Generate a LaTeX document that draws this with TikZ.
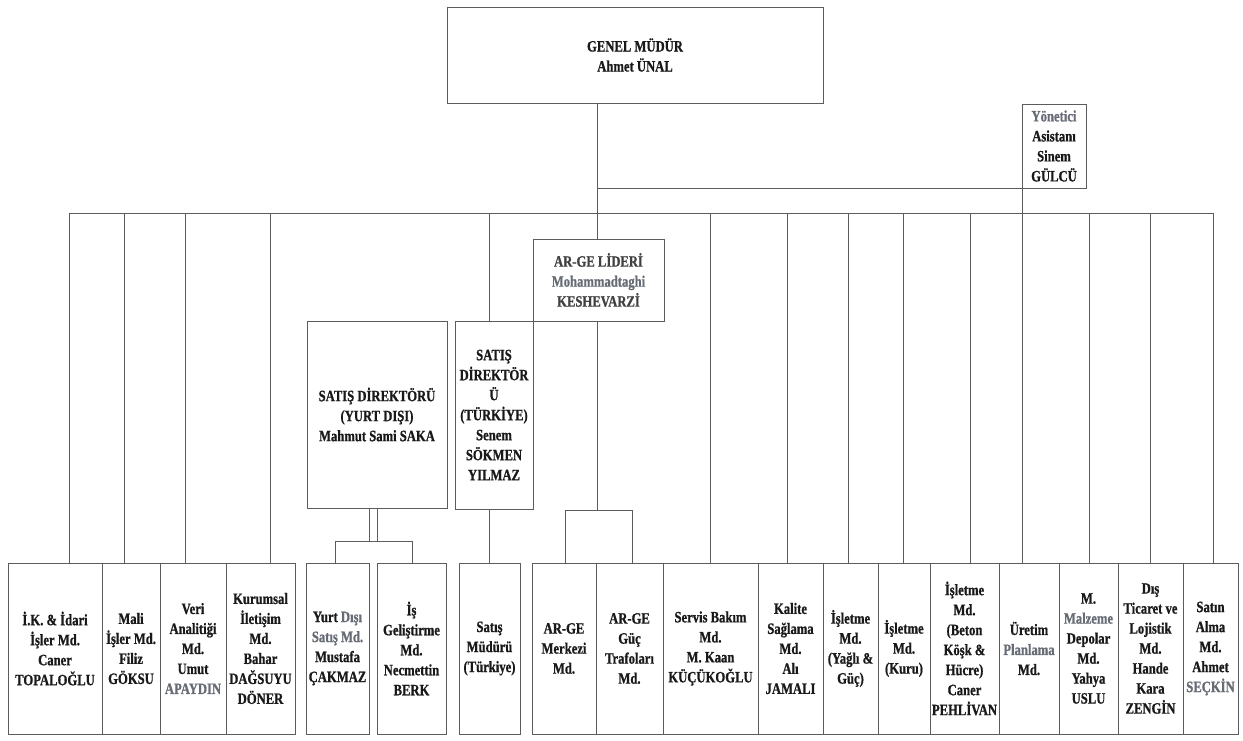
\documentclass[tikz,border=0pt]{standalone}
\usepackage{fontspec}
\newfontfamily\cf{Liberation Serif}[FakeStretch=0.8, FakeBold=0.8]
\definecolor{linec}{rgb}{0.36,0.36,0.37}
\definecolor{graytext}{rgb}{0.40,0.42,0.46}
\newcommand\orgfont{\cf\bfseries\fontsize{15.8}{20}\selectfont}
\newcommand\gw[1]{\textcolor{graytext}{#1}}
\tikzset{
  box/.style={draw=linec, line width=1pt, inner sep=0pt, outer sep=0pt, align=center, font=\orgfont, text=black!90},
  conn/.style={draw=linec, line width=1pt},
}
\begin{document}
\begin{tikzpicture}[x=1pt,y=-1pt]
\useasboundingbox[fill=white] (0,0) rectangle (1243,740);
% top level
\node[box, minimum width=376, minimum height=96] (gm) at (635,55) {GENEL MÜDÜR\\Ahmet ÜNAL};
\node[box, minimum width=64, minimum height=84] (ya) at (1054,146) {\gw{Yönetici}\\Asistanı\\Sinem\\GÜLCÜ};
\node[box, minimum width=131, minimum height=82, text=black!75] (arge) at (598.5,280) {AR-GE LİDERİ\\\gw{Mohammadtaghi}\\KESHEVARZİ};
\node[box, minimum width=140, minimum height=187] (sdy) at (377,414.5) {SATIŞ DİREKTÖRÜ\\(YURT DIŞI)\\Mahmut Sami SAKA};
\node[box, minimum width=78, minimum height=188] (sdt) at (494,415) {SATIŞ\\DİREKTÖR\\Ü\\(TÜRKİYE)\\Senem\\SÖKMEN\\YILMAZ};
% bottom boxes
\node[box, minimum width=94, minimum height=171] (b1) at (55,648.5) {İ.K. \& İdari\\İşler Md.\\Caner\\TOPALOĞLU};
\node[box, minimum width=58, minimum height=171] (b2) at (131,648.5) {Mali\\İşler Md.\\Filiz\\GÖKSU};
\node[box, minimum width=66, minimum height=171] (b3) at (193,648.5) {Veri\\Analitiği\\Md.\\Umut\\\gw{APAYDIN}};
\node[box, minimum width=69, minimum height=171] (b4) at (260.5,648.5) {Kurumsal\\İletişim\\Md.\\Bahar\\DAĞSUYU\\DÖNER};
\node[box, minimum width=63, minimum height=171] (b5) at (337.5,648.5) {Yurt \gw{Dışı}\\\gw{Satış Md.}\\Mustafa\\ÇAKMAZ};
\node[box, minimum width=69, minimum height=171] (b6) at (411.5,648.5) {İş\\Geliştirme\\Md.\\Necmettin\\BERK};
\node[box, minimum width=61, minimum height=171] (b7) at (489.5,648.5) {Satış\\Müdürü\\(Türkiye)};
\node[box, minimum width=64, minimum height=171] (b8) at (564,648.5) {AR-GE\\Merkezi\\Md.};
\node[box, minimum width=67, minimum height=171] (b9) at (629.5,648.5) {AR-GE\\Güç\\Trafoları\\Md.};
\node[box, minimum width=95, minimum height=171] (b10) at (710.5,648.5) {Servis Bakım\\Md.\\M. Kaan\\KÜÇÜKOĞLU};
\node[box, minimum width=65, minimum height=171] (b11) at (790.5,648.5) {Kalite\\Sağlama\\Md.\\Alı\\JAMALI};
\node[box, minimum width=55, minimum height=171] (b12) at (850.5,648.5) {İşletme\\Md.\\(Yağlı \&\\Güç)};
\node[box, minimum width=52, minimum height=171] (b13) at (904,648.5) {İşletme\\Md.\\(Kuru)};
\node[box, minimum width=69, minimum height=171] (b14) at (964.5,648.5) {İşletme\\Md.\\(Beton\\Köşk \&\\Hücre)\\Caner\\PEHLİVAN};
\node[box, minimum width=60, minimum height=171] (b15) at (1029,648.5) {Üretim\\\gw{Planlama}\\Md.};
\node[box, minimum width=59, minimum height=171] (b16) at (1088.5,648.5) {M.\\\gw{Malzeme}\\Depolar\\Md.\\Yahya\\USLU};
\node[box, minimum width=65, minimum height=171] (b17) at (1150.5,648.5) {Dış\\Ticaret ve\\Lojistik\\Md.\\Hande\\Kara\\ZENGİN};
\node[box, minimum width=55, minimum height=171] (b18) at (1210.5,648.5) {Satın\\Alma\\Md.\\Ahmet\\\gw{SEÇKİN}};
% coordinates
\coordinate (m) at (597,213);
\coordinate (barL) at (69,213);
\coordinate (barR) at (1213,213);
\coordinate (d2) at (124,213);
\coordinate (d3) at (185,213);
\coordinate (d4) at (270,213);
\coordinate (d7) at (489,213);
\coordinate (d10) at (710,213);
\coordinate (d11) at (787,213);
\coordinate (d12) at (848,213);
\coordinate (d13) at (903,213);
\coordinate (d14) at (970,213);
\coordinate (d16) at (1089,213);
\coordinate (d17) at (1150,213);
\coordinate (ab) at (597,510);
\coordinate (abL) at (565,510);
\coordinate (abR) at (632,510);
\coordinate (yb1) at (369,541);
\coordinate (yb2) at (377,541);
\coordinate (ybL) at (335,541);
\coordinate (ybR) at (412,541);
% connectors
\draw[conn] (m |- gm.south) -- (m |- arge.north);
\draw[conn] (m |- ya.south) -- (ya.south west);
\draw[conn] (ya.south west) -- (ya.south west |- b15.north);
\draw[conn] (barL) -- (barR);
\draw[conn] (barL) -- (barL |- b1.north);
\draw[conn] (d2) -- (d2 |- b2.north);
\draw[conn] (d3) -- (d3 |- b3.north);
\draw[conn] (d4) -- (d4 |- b4.north);
\draw[conn] (d7) -- (d7 |- sdt.north);
\draw[conn] (d7 |- sdt.south) -- (d7 |- b7.north);
\draw[conn] (d10) -- (d10 |- b10.north);
\draw[conn] (d11) -- (d11 |- b11.north);
\draw[conn] (d12) -- (d12 |- b12.north);
\draw[conn] (d13) -- (d13 |- b13.north);
\draw[conn] (d14) -- (d14 |- b14.north);
\draw[conn] (d16) -- (d16 |- b16.north);
\draw[conn] (d17) -- (d17 |- b17.north);
\draw[conn] (barR) -- (barR |- b18.north);
\draw[conn] (m |- arge.south) -- (ab);
\draw[conn] (abL |- b8.north) -- (abL) -- (abR) -- (abR |- b9.north);
\draw[conn] (yb1 |- sdy.south) -- (yb1);
\draw[conn] (yb2 |- sdy.south) -- (yb2);
\draw[conn] (ybL |- b5.north) -- (ybL) -- (ybR) -- (ybR |- b6.north);
\end{tikzpicture}
\end{document}
